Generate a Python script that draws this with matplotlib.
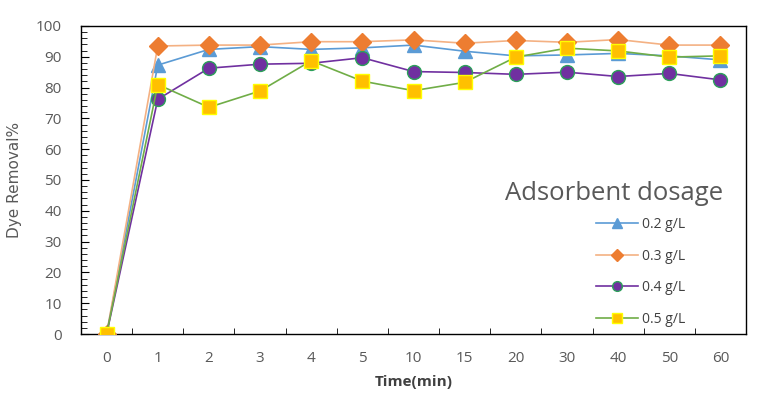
import matplotlib
matplotlib.use("Agg")
import matplotlib.pyplot as plt
from matplotlib.ticker import MultipleLocator

categories = ["0", "1", "2", "3", "4", "5", "10", "15", "20", "30", "40", "50", "60"]
s02 = [0, 87.3, 92.4, 93.3, 92.4, 92.9, 93.8, 91.8, 90.3, 90.6, 91.1, 90.3, 89.0]
s03 = [0, 93.5, 93.8, 93.8, 94.9, 94.9, 95.5, 94.4, 95.3, 94.7, 95.6, 93.8, 93.8]
s04 = [0, 76.2, 86.3, 87.6, 87.9, 89.7, 85.2, 84.9, 84.3, 85.0, 83.6, 84.6, 82.5]
s05 = [0, 81.0, 73.6, 78.9, 88.7, 82.1, 79.0, 81.7, 89.9, 92.8, 91.9, 89.9, 90.3]
labels = ["0.2 g/L", "0.3 g/L", "0.4 g/L", "0.5 g/L"]
legend_title = "Adsorbent dosage"

plt.rcParams['font.family'] = ['Open Sans', 'DejaVu Sans']

W, H = 774, 398
fig = plt.figure(figsize=(W / 100, H / 100), dpi=100)
ax = fig.add_axes([0.1047, 0.1608, 0.8591, 0.7739])
x = list(range(len(categories)))

ax.plot(x, s02, color="#5B9BD5", lw=1.2, marker="^", ms=10, mfc="#5B9BD5", mec="#5B9BD5", label=labels[0], zorder=3)
ax.plot(x, s03, color="#F4B183", lw=1.2, marker="D", ms=9, mfc="#ED7D31", mec="#ED7D31", label=labels[1], zorder=3)
ax.plot(x, s04, color="#7030A0", lw=1.2, marker="o", ms=10, mfc="#7030A0", mec="#2CA05A", mew=1, label=labels[2], zorder=3)
ax.plot(x, s05, color="#70AD47", lw=1.2, marker="s", ms=10, mfc="#FFC000", mec="#FFFF00", mew=1, label=labels[3], zorder=4)

ax.set_xlim(-0.5, len(categories) - 0.5)
ax.set_ylim(0, 100)
ax.set_xticks(x)
ax.set_xticklabels(categories)
ax.xaxis.set_minor_locator(MultipleLocator(0.5))
ax.yaxis.set_major_locator(MultipleLocator(10))
ax.yaxis.set_minor_locator(MultipleLocator(2))
ax.tick_params(axis="both", which="both", direction="in", colors="black", labelcolor="#595959", labelsize=11)
ax.tick_params(axis="y", which="major", length=6, pad=14)
ax.tick_params(axis="y", which="minor", length=4)
ax.tick_params(axis="x", which="major", length=0, pad=12)
ax.tick_params(axis="x", which="minor", length=4)
for sp in ax.spines.values():
    sp.set_color("black")
    sp.set_linewidth(1)

ax.set_xlabel("Time(min)", fontsize=11, fontweight="bold", color="#404040", labelpad=7)
ax.set_ylabel("Dye Removal%", fontsize=11, color="#595959", labelpad=10, family=["Liberation Sans Narrow", "DejaVu Sans"])

fig.text(614 / W, 1 - 193 / H, legend_title, fontsize=18.5, color="#595959", ha="center", va="center")

leg = ax.legend(loc="upper left", bbox_to_anchor=(596 / W, 1 - 217 / H), bbox_transform=fig.transFigure,
                frameon=False, fontsize=10, borderpad=0, borderaxespad=0, labelspacing=1.2,
                handlelength=3.0, handletextpad=0.3, markerscale=0.7)
for t in leg.get_texts():
    t.set_color("#404040")

fig.savefig("out.png", dpi=100)
